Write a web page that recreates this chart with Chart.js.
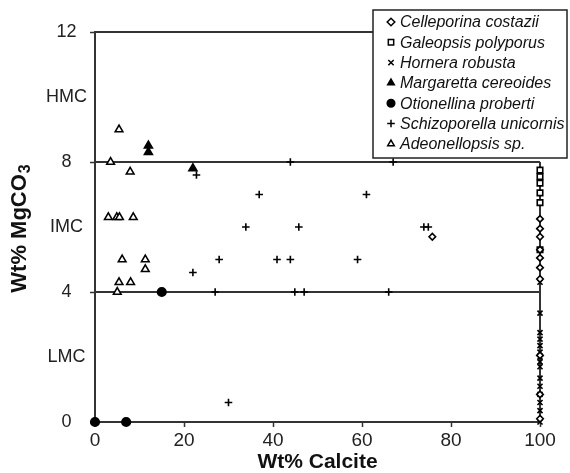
<!DOCTYPE html>
<html>
<head>
<meta charset="utf-8">
<script src="https://cdn.jsdelivr.net/npm/chart.js@4.4.1/dist/chart.umd.min.js"></script>
<style>
  body { margin: 0; background: #fff; }
</style>
</head>
<body>
<canvas id="calcite-chart" width="570" height="473"></canvas>
<script>
// points are [wt% calcite, wt% MgCO3]
var celleporina = [[75.8,5.7],[100,6.25],[100,5.95],[100,5.7],[100,5.3],[100,5.05],[100,4.75],[100,4.4],[100,2.05],[100,0.85],[100,0.1]];
var galeopsis = [[100,7.75],[100,7.55],[100,7.35],[100,7.05],[100,6.75],[100,5.3]];
var hornera = [[100,7.35],[100,4.3],[100,3.35],[100,2.75],[100,2.55],[100,2.35],[100,2.15],[100,2.0],[100,1.85],[100,1.7],[100,1.35],[100,1.1],[100,0.85],[100,0.6],[100,0.35],[100,0]];
var margaretta = [[12,8.5],[12,8.3],[22,7.8]];
var otionellina = [[0,0],[7,0],[15,4]];
var schizoporella = [[22.8,7.6],[36.9,7.0],[61,7.0],[33.9,6.0],[45.8,6.0],[73.9,6.0],[74.9,6.0],
  [27.9,5.0],[40.9,5.0],[43.9,5.0],[59,5.0],[22,4.6],[30,0.6],
  [27,4],[44.9,4],[47,4],[66,4],[43.9,8],[67,8]];
var adeonellopsis = [[5.4,9.0],[3.5,8.0],[7.9,7.7],[3.0,6.3],[4.9,6.3],[5.5,6.3],[8.6,6.3],
  [6.1,5.0],[11.3,5.0],[11.3,4.7],[5.4,4.3],[8.0,4.3],[5.0,4.0]];

// LMC / IMC / HMC limits and frame
var limitLines = [
  [[0,4],[100,4]],
  [[0,8],[100,8]],
  [[0,12],[100,12]],
  [[100,0],[100,8]]
];

var yTickValues = [0, 2, 4, 6, 8, 10, 12];
var yTickLabels = ['0', 'LMC', '4', 'IMC', '8', 'HMC', '12'];

var FONT = '"Liberation Sans", Arial, sans-serif';

function pts(arr) {
  return arr.map(function(p) { return {x: p[0], y: p[1]}; });
}

function species(label, arr, style, fill, radius) {
  return {
    label: label,
    data: pts(arr),
    pointStyle: style,
    pointRadius: radius,
    pointBackgroundColor: fill,
    pointBorderColor: '#000',
    pointBorderWidth: 1.6,
    showLine: false,
    clip: false,
    order: 0
  };
}

var datasets = [
  species('Celleporina costazii', celleporina, 'rectRot', '#fff', 3.3),
  species('Galeopsis polyporus', galeopsis, 'rect', '#fff', 3.9),
  species('Hornera robusta', hornera, 'crossRot', '#000', 3.6),
  species('Margaretta cereoides', margaretta, 'triangle', '#000', 4.6),
  species('Otionellina proberti', otionellina, 'circle', '#000', 4.3),
  species('Schizoporella unicornis', schizoporella, 'cross', '#000', 3.8),
  species('Adeonellopsis sp.', adeonellopsis, 'triangle', '#fff', 4.4)
];

limitLines.forEach(function(seg) {
  datasets.push({
    boundary: true,
    data: pts(seg),
    showLine: true,
    borderColor: '#333',
    borderWidth: 2,
    pointRadius: 0,
    clip: false,
    order: 10
  });
});

// legend box that sits over the top right corner
var boxLegend = {
  id: 'boxLegend',
  afterDraw: function(chart) {
    var c = chart.ctx;
    var items = chart.data.datasets.filter(function(ds) { return !ds.boundary; });
    c.save();
    c.fillStyle = '#fff';
    c.fillRect(373, 10, 194, 148);
    c.strokeStyle = '#222';
    c.lineWidth = 1.5;
    c.strokeRect(373, 10, 194, 148);
    c.font = 'italic 16px ' + FONT;
    c.textBaseline = 'middle';
    items.forEach(function(ds, i) {
      var y = 22 + i * 20.3;
      c.fillStyle = ds.pointBackgroundColor;
      c.strokeStyle = '#000';
      c.lineWidth = 1.5;
      Chart.helpers.drawPoint(c, {pointStyle: ds.pointStyle, radius: 3.8, borderWidth: 1.5, rotation: 0}, 391, y);
      c.fillStyle = '#111';
      c.fillText(ds.label, 400, y + 1);
    });
    c.restore();
  }
};

// y title with a real subscript 3
var yTitle = {
  id: 'yTitle',
  afterDraw: function(chart) {
    var c = chart.ctx;
    var area = chart.chartArea;
    var main = 'Wt% MgCO';
    var sub = '3';
    c.save();
    c.translate(20, (area.top + area.bottom) / 2 + 2);
    c.rotate(-Math.PI / 2);
    c.fillStyle = '#111';
    c.textBaseline = 'middle';
    c.font = 'bold 22px ' + FONT;
    var w1 = c.measureText(main).width;
    c.font = 'bold 16px ' + FONT;
    var w2 = c.measureText(sub).width;
    var x0 = -(w1 + w2) / 2;
    c.font = 'bold 22px ' + FONT;
    c.fillText(main, x0, 0);
    c.font = 'bold 16px ' + FONT;
    c.fillText(sub, x0 + w1 + 1, 6);
    c.restore();
  }
};

var ctx = document.getElementById('calcite-chart');

var calciteChart = new Chart(ctx, {
  type: 'scatter',
  data: { datasets: datasets },
  options: {
    responsive: false,
    animation: false,
    devicePixelRatio: 1,
    layout: { padding: { top: 32, right: 30, left: 0, bottom: 0 } },
    plugins: {
      legend: { display: false },
      tooltip: { enabled: false }
    },
    scales: {
      x: {
        type: 'linear',
        min: 0,
        max: 100,
        ticks: {
          stepSize: 20,
          padding: 2,
          color: '#222',
          font: { family: FONT, size: 19 }
        },
        grid: { drawOnChartArea: false, drawTicks: true, tickLength: 5, tickColor: '#333', tickWidth: 1.5 },
        border: { color: '#333', width: 2 },
        title: {
          display: true,
          text: 'Wt% Calcite',
          color: '#111',
          padding: { top: 0, bottom: 0 },
          font: { family: FONT, size: 21, weight: 'bold', lineHeight: 1 }
        },
        afterFit: function(scale) { scale.height = 51; }
      },
      y: {
        type: 'linear',
        min: 0,
        max: 12,
        afterBuildTicks: function(scale) {
          scale.ticks = yTickValues.map(function(v) { return {value: v}; });
        },
        ticks: {
          padding: 3,
          crossAlign: 'center',
          color: '#222',
          font: { family: FONT, size: 18 },
          callback: function(value) {
            var i = yTickValues.indexOf(value);
            return i >= 0 ? yTickLabels[i] : '';
          }
        },
        grid: {
          drawOnChartArea: false,
          drawTicks: true,
          tickLength: 5,
          tickWidth: 1.5,
          tickColor: function(c) { return c.tick && c.tick.value % 4 === 0 ? '#333' : 'rgba(0,0,0,0)'; }
        },
        border: { color: '#333', width: 2 },
        title: { display: false },
        afterFit: function(scale) { scale.width = 95; }
      }
    }
  },
  plugins: [boxLegend, yTitle]
});
</script>
</body>
</html>
